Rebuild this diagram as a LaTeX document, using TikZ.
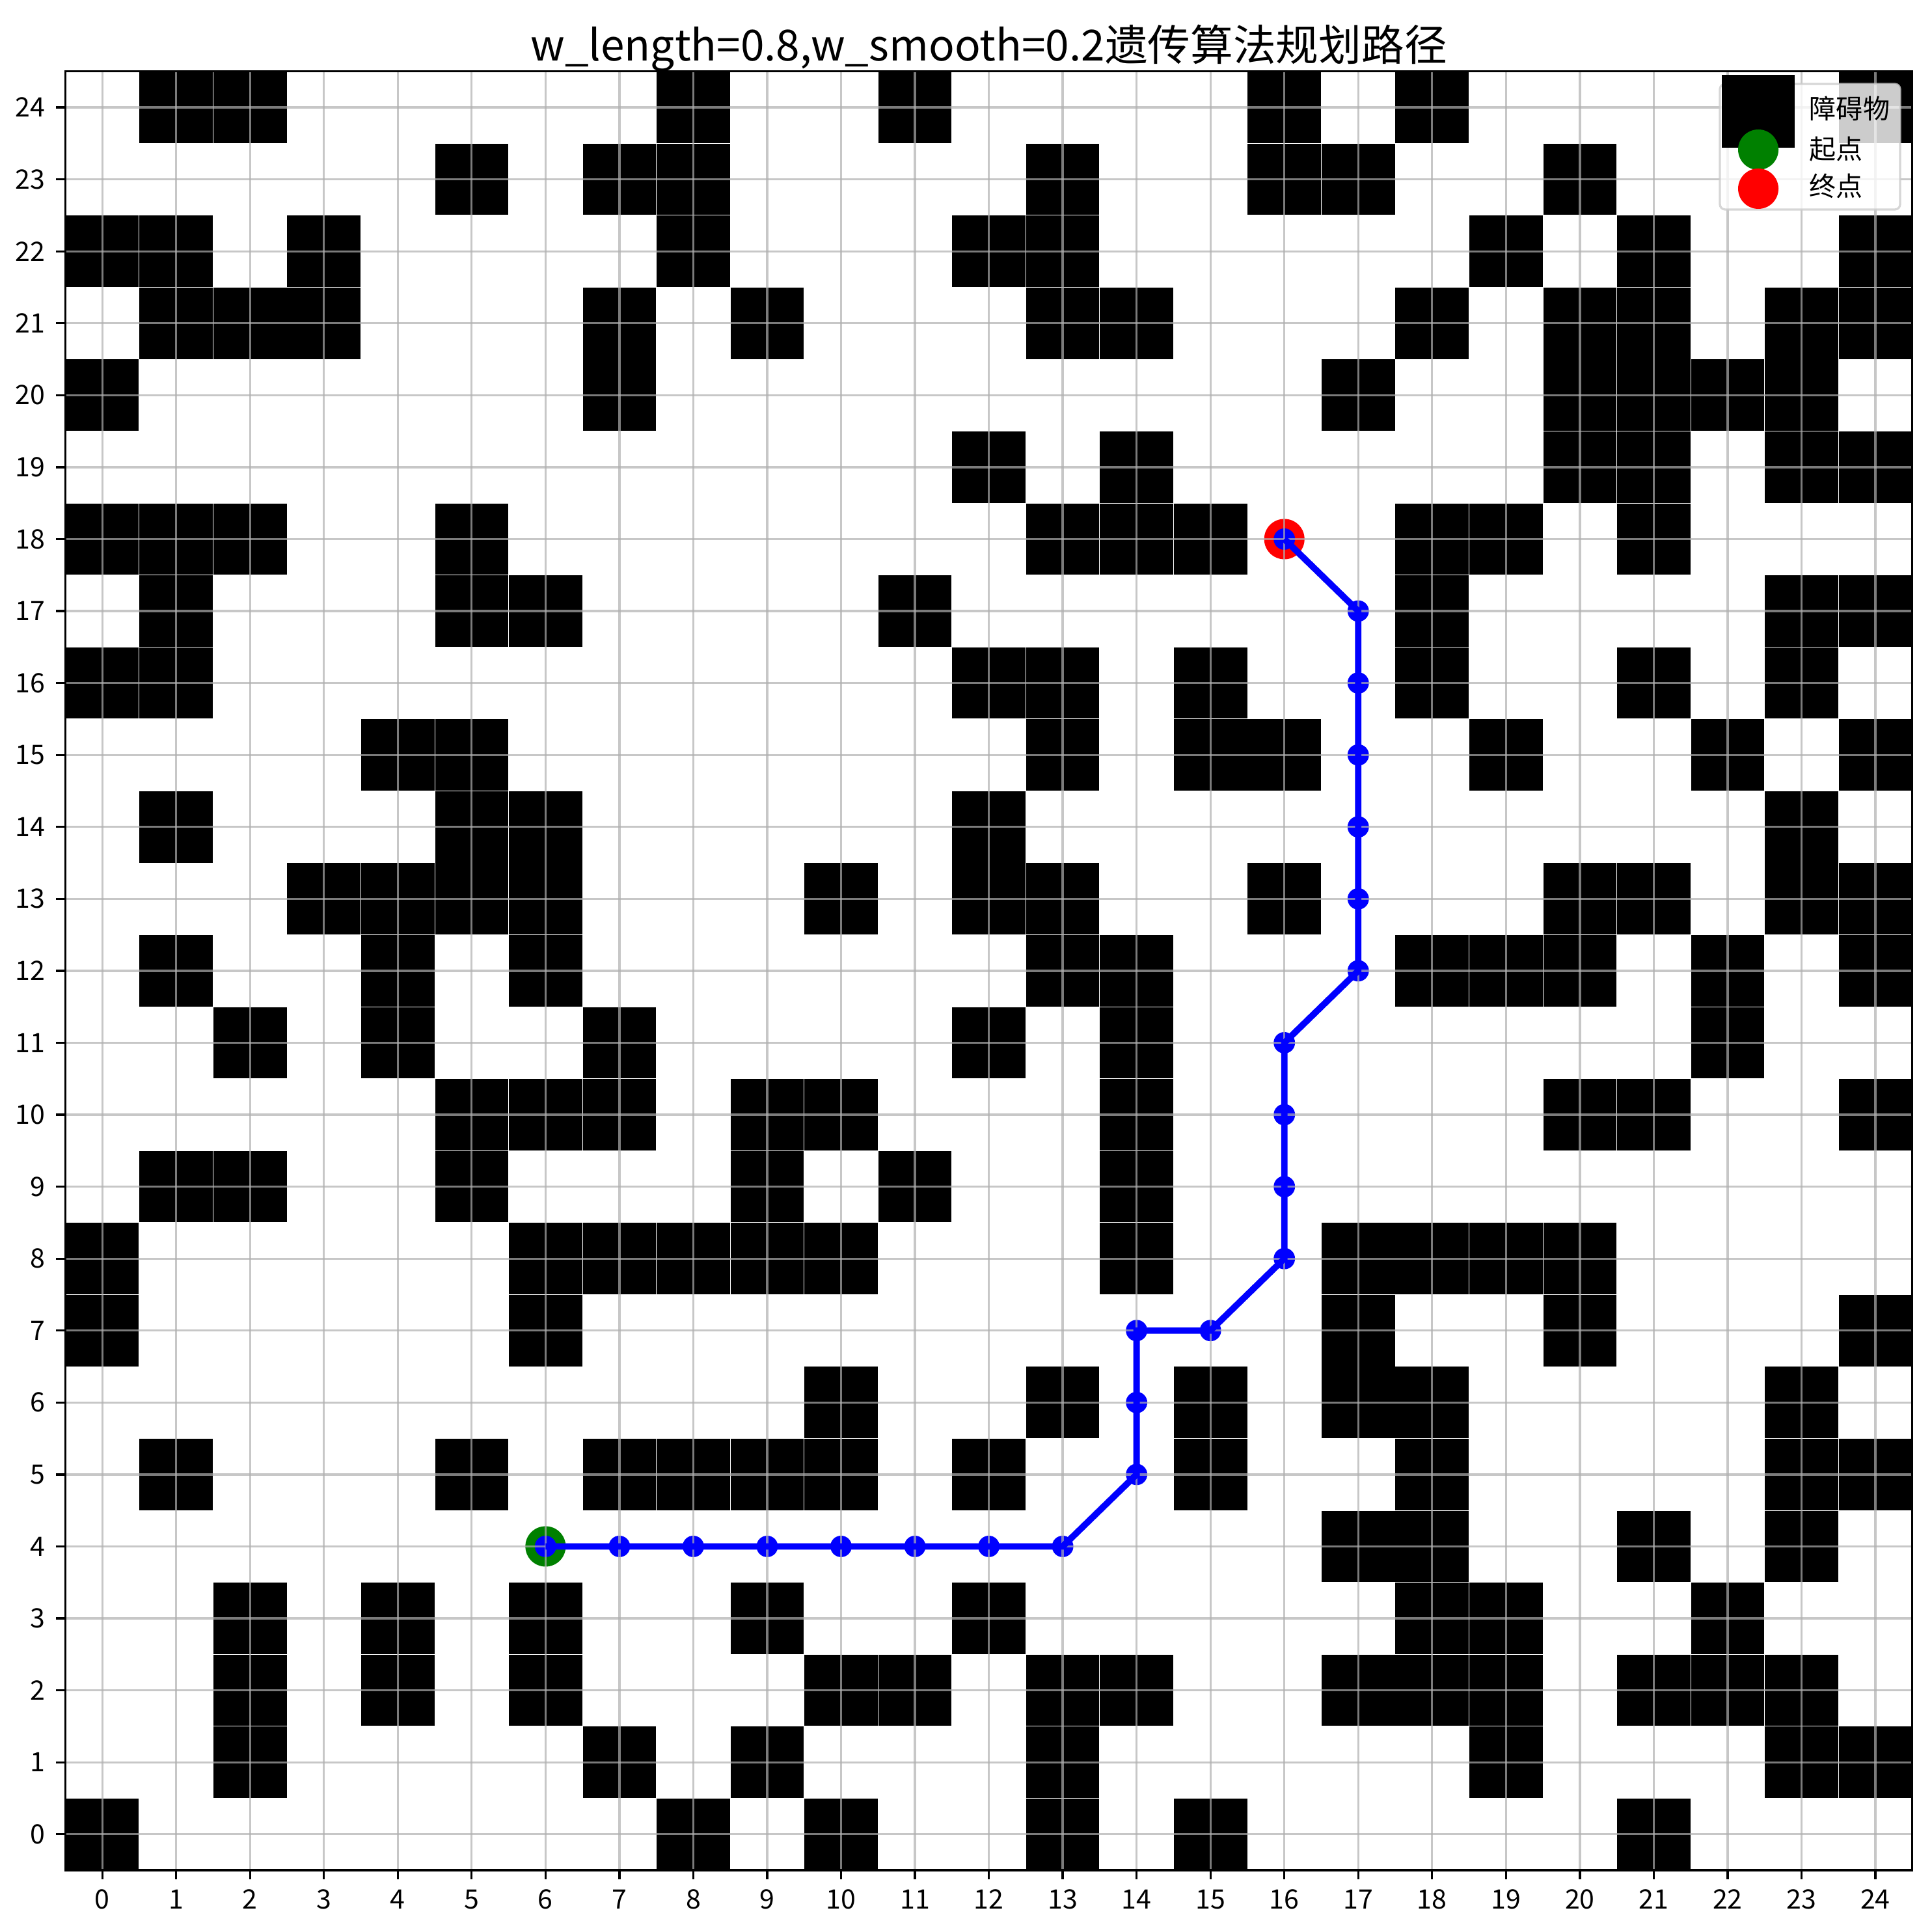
\documentclass[tikz,border=0pt]{standalone}
\usepackage{fontspec}
\setmainfont{Noto Sans CJK SC}
\definecolor{mplgreen}{RGB}{0,128,0}
\definecolor{mplred}{RGB}{255,0,0}
\definecolor{mplblue}{RGB}{0,0,255}
\definecolor{gridc}{RGB}{176,176,176}
\definecolor{legedge}{RGB}{204,204,204}
\tikzset{
  obst/.style={fill=black},
  gridline/.style={draw=gridc, draw opacity=0.7, line width=0.8pt},
  frameline/.style={draw=black, line width=0.8pt},
  tickline/.style={draw=black, line width=0.8pt},
  ticklab/.style={inner sep=0pt, font=\fontsize{10}{12}\selectfont},
  pathdot/.style={circle, fill=mplblue, inner sep=0pt, minimum size=8pt},
  pathline/.style={draw=mplblue, line width=2.4pt},
  startpt/.style={circle, fill=mplgreen, inner sep=0pt, minimum size=15.1pt},
  goalpt/.style={circle, fill=mplred, inner sep=0pt, minimum size=15.1pt},
  legtext/.style={inner sep=0pt, anchor=west, font=\fontsize{10}{12}\selectfont},
}
\begin{document}
\begin{tikzpicture}
\useasboundingbox[fill=white] (0,0) rectangle (25.4,25.4);
\begin{scope}[shift={(1.34459,1.28569)}, x=0.97128cm, y=0.94592cm]
  % obstacles
  \foreach \r/\cs in {
    24/{1,2,8,11,16,18,24},
    23/{5,7,8,13,16,17,20},
    22/{0,1,3,8,12,13,19,21,24},
    21/{1,2,3,7,9,13,14,18,20,21,23,24},
    20/{0,7,17,20,21,22,23},
    19/{12,14,20,21,23,24},
    18/{0,1,2,5,13,14,15,18,19,21},
    17/{1,5,6,11,18,23,24},
    16/{0,1,12,13,15,18,21,23},
    15/{4,5,13,15,16,19,22,24},
    14/{1,5,6,12,23},
    13/{3,4,5,6,10,12,13,16,20,21,23,24},
    12/{1,4,6,13,14,18,19,20,22,24},
    11/{2,4,7,12,14,22},
    10/{5,6,7,9,10,14,20,21,24},
    9/{1,2,5,9,11,14},
    8/{0,6,7,8,9,10,14,17,18,19,20},
    7/{0,6,17,20,24},
    6/{10,13,15,17,18,23},
    5/{1,5,7,8,9,10,12,15,18,23,24},
    4/{17,18,21,23},
    3/{2,4,6,9,12,18,19,22},
    2/{2,4,6,10,11,13,14,17,18,19,21,22,23},
    1/{2,7,9,13,19,23,24},
    0/{0,8,10,13,15,21}} {
    \foreach \c in \cs {
      \fill[obst] (\c-0.496,\r-0.496) rectangle (\c+0.496,\r+0.496);
    }
  }
  % path coordinates
  \foreach \i/\px/\py in {0/6/4,1/7/4,2/8/4,3/9/4,4/10/4,5/11/4,6/12/4,7/13/4,
    8/14/5,9/14/6,10/14/7,11/15/7,12/16/8,13/16/9,14/16/10,15/16/11,
    16/17/12,17/17/13,18/17/14,19/17/15,20/17/16,21/17/17,22/16/18} {
    \coordinate (p\i) at (\px,\py);
  }
  % start and goal
  \node[startpt] (start) at (p0) {};
  \node[goalpt] (goal) at (p22) {};
  % path dots
  \foreach \i in {0,...,22} {
    \node[pathdot] (d\i) at (p\i) {};
  }
  % grid
  \foreach \i in {0,...,24} {
    \draw[gridline] (\i,-0.5) -- (\i,24.5);
    \draw[gridline] (-0.5,\i) -- (24.5,\i);
  }
  % path line
  \draw[pathline] (p0) -- (p1) -- (p2) -- (p3) -- (p4) -- (p5) -- (p6) -- (p7)
    -- (p8) -- (p9) -- (p10) -- (p11) -- (p12) -- (p13) -- (p14) -- (p15)
    -- (p16) -- (p17) -- (p18) -- (p19) -- (p20) -- (p21) -- (p22);
  % frame
  \draw[frameline] (-0.5,-0.5) rectangle (24.5,24.5);
  % ticks and labels
  \foreach \i in {0,...,24} {
    \draw[tickline] (\i,-0.5) -- (\i,-0.6305);
    \draw[tickline] (-0.5,\i) -- (-0.6271,\i);
    \node[ticklab, anchor=base] (xl\i) at (\i,-1.0336) {\i};
    \node[ticklab, anchor=east] (yl\i) at (-0.7677,\i) {\i};
  }
\end{scope}
% legend
\draw[fill=white, fill opacity=0.8, draw=legedge, draw opacity=0.8, line width=0.8pt,
  rounded corners=0.07cm] (22.611,22.645) rectangle (24.981,24.296);
\fill[black] (22.637,23.458) rectangle (23.595,24.416);
\node[startpt] (legstart) at (23.116,23.432) {};
\node[goalpt] (leggoal) at (23.116,22.919) {};
\node[legtext] (legt1) at (23.783,23.971) {障碍物};
\node[legtext] (legt2) at (23.783,23.441) {起点};
\node[legtext] (legt3) at (23.783,22.953) {终点};
% title
\node[anchor=base, inner sep=0pt, font=\fontsize{16}{19}\selectfont] (title) at (13.0,24.596)
  {w\_length=0.8,w\_smooth=0.2遗传算法规划路径};
\end{tikzpicture}
\end{document}
